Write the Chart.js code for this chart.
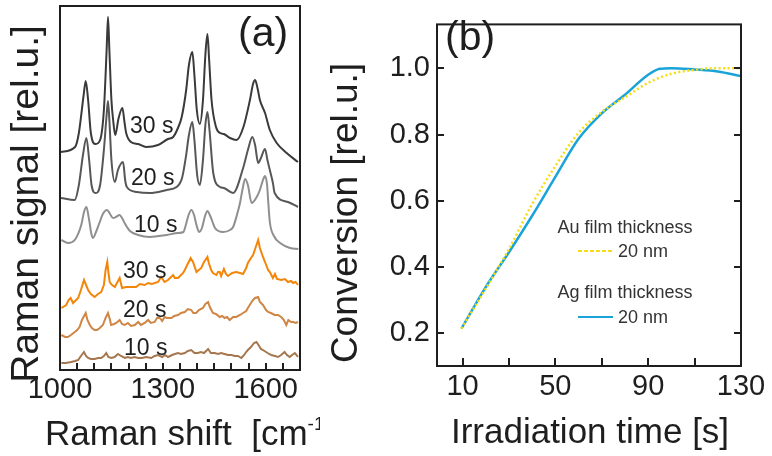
<!DOCTYPE html>
<html>
<head>
<meta charset="utf-8">
<script src="https://cdn.jsdelivr.net/npm/chart.js@4.4.0/dist/chart.umd.min.js"></script>
<style>
html, body { margin: 0; padding: 0; background: #fff; }
#wrap { position: relative; width: 772px; height: 456px; overflow: hidden; }
#chartA { position: absolute; left: 0; top: 0; }
#chartB { position: absolute; left: 320px; top: 0; }
</style>
</head>
<body>
<div id="wrap">
  <canvas id="chartA" width="320" height="456"></canvas>
  <canvas id="chartB" width="452" height="456"></canvas>
</div>
<script>
// Panel (a): Raman spectra (shift in cm-1, signal with vertical offset, rel.u.)
const dark30Shift = [1003,1044,1055,1069,1075,1082,1090,1104,1117,1128,1136,1140,1144,1150,1155,1161,1171,1182,1188,1193,1207,1228,1251,1286,1315,1330,1344,1355,1368,1376,1386,1392,1399,1408,1417,1424,1430,1435,1442,1455,1467,1478,1496,1515,1535,1554,1563,1569,1576,1583,1598,1612,1632,1661,1694];
const dark30Signal = [218,223,237,275,289,270,237,226,230,260,320,353,320,270,250,235,252,262,248,237,228,226,223,225,231,233,242,253,280,305,318,295,260,246,270,315,336,310,270,243,237,236,232,230,243,270,286,290,282,270,257,240,227,217,208];

const dark20Shift = [1003,1043,1055,1067,1077,1085,1092,1104,1117,1128,1136,1140,1144,1150,1160,1169,1184,1190,1195,1224,1262,1311,1340,1356,1368,1376,1386,1392,1400,1408,1417,1424,1430,1436,1447,1467,1478,1505,1535,1548,1561,1569,1578,1586,1598,1605,1612,1621,1626,1665,1694];
const dark20Signal = [172,170,185,215,232,210,185,177,185,220,255,269,250,210,188,200,208,190,183,178,177,180,183,192,215,235,248,230,195,185,210,245,258,240,197,183,182,177,203,220,233,225,207,212,221,210,200,187,177,168,163];

const grey10Shift = [1004,1023,1043,1062,1070,1077,1085,1091,1096,1105,1116,1125,1137,1146,1155,1163,1174,1181,1190,1204,1228,1262,1311,1344,1360,1367,1375,1383,1391,1398,1406,1414,1423,1430,1437,1445,1452,1476,1496,1505,1516,1525,1532,1540,1548,1559,1572,1583,1592,1598,1604,1607,1612,1624,1642,1671,1695];
const grey10Signal = [130,127,130,145,158,163,150,137,132,138,148,156,160,156,152,153,155,152,146,139,135,133,135,137,138,145,155,160,155,145,138,142,154,159,155,148,142,138,140,143,155,167,180,191,185,167,172,180,190,194,185,170,148,134,127,122,121];

const orange30Shift = [1004,1018,1025,1031,1038,1047,1053,1061,1070,1076,1082,1090,1101,1111,1120,1128,1133,1138,1141,1145,1152,1160,1166,1174,1181,1193,1208,1222,1233,1247,1257,1268,1286,1295,1305,1315,1321,1330,1335,1344,1353,1359,1364,1371,1381,1388,1398,1405,1412,1420,1430,1434,1441,1446,1456,1461,1466,1470,1478,1484,1490,1502,1514,1525,1534,1543,1548,1557,1563,1570,1578,1583,1592,1598,1607,1612,1621,1627,1633,1645,1656,1665,1674,1680,1687,1694];
const orange30Signal = [62,65,70,72,67,70,72,80,90,85,80,76,73,76,78,85,100,108,98,88,85,83,87,92,82,83,83,83,86,85,87,86,88,93,88,90,92,95,92,92,95,97,100,105,112,108,98,100,102,108,113,107,100,97,95,98,98,94,101,96,94,97,98,97,96,102,107,112,115,122,130,122,113,108,100,98,92,96,91,90,91,88,89,87,88,85];

const orange20Shift = [1004,1015,1023,1032,1043,1050,1057,1064,1075,1080,1087,1093,1101,1108,1116,1125,1133,1140,1146,1149,1158,1164,1174,1181,1189,1198,1207,1218,1228,1236,1247,1257,1265,1276,1283,1291,1298,1305,1312,1325,1333,1344,1353,1364,1373,1383,1389,1397,1405,1417,1424,1432,1437,1446,1455,1466,1473,1480,1487,1495,1505,1514,1525,1534,1543,1548,1557,1563,1569,1578,1583,1592,1601,1607,1615,1626,1636,1645,1653,1660,1666,1674,1680,1688,1694];
const orange20Signal = [35,33,33,35,38,40,43,50,57,50,45,42,40,40,42,45,52,57,50,45,46,47,50,46,45,47,44,45,48,45,47,50,47,48,52,52,49,53,52,52,54,55,57,58,61,60,57,57,60,62,66,68,63,57,56,53,54,52,53,50,53,53,55,57,59,62,67,70,72,73,68,65,60,58,57,55,55,53,50,45,50,48,48,47,48];

const brown10Shift = [1004,1017,1033,1044,1053,1061,1070,1076,1082,1090,1101,1111,1120,1128,1135,1141,1150,1159,1169,1178,1189,1198,1207,1217,1228,1239,1251,1266,1276,1286,1298,1306,1315,1327,1335,1344,1353,1364,1373,1383,1392,1402,1411,1420,1432,1440,1451,1461,1470,1480,1490,1500,1510,1519,1529,1537,1543,1548,1557,1566,1573,1579,1586,1592,1601,1610,1616,1627,1636,1645,1655,1662,1670,1677,1685,1690,1694];
const brown10Signal = [7,7,8,9,10,14,18,14,12,11,11,12,12,14,17,13,12,13,16,14,12,13,12,13,12,12,13,12,14,15,13,15,13,15,16,17,16,17,19,20,17,17,18,17,21,17,17,16,17,16,15,15,14,14,12,15,18,20,23,27,28,25,21,20,18,16,15,14,13,15,18,15,13,15,17,15,13];

const ramanTicks = [1000,1050,1100,1150,1200,1250,1300,1350,1400,1450,1500,1550,1600,1650,1700];
const ramanTickLabels = [1000, 1300, 1600];

// Panel (b): conversion vs irradiation time
const auTime = [9.5,20,30,40,50,60,70,80,90,100,110,120,130];
const auConversion = [0.215,0.335,0.455,0.59,0.705,0.805,0.868,0.912,0.956,0.983,0.995,1.0,1.0];
const agTime = [9.5,20,30,40,50,60,70,80,90,95,100,110,120,130];
const agConversion = [0.215,0.34,0.445,0.555,0.672,0.787,0.864,0.92,0.98,0.998,1.0,0.996,0.99,0.976];

const timeTicks = [10,30,50,70,90,110,130];
const timeTickLabels = [10, 50, 90, 130];
const conversionTicks = [0.2,0.4,0.6,0.8,1.0];

const FONT = '"Liberation Sans", Arial, Helvetica, sans-serif';
const INK = '#1e1e1e';

const toPoints = (xs, ys) => xs.map((x, i) => ({ x: x, y: ys[i] }));

// marco del gráfico y marcas hacia dentro
const framePlugin = {
  id: 'frame',
  afterDraw(chart, args, opts) {
    const ctx = chart.ctx;
    const a = chart.chartArea;
    ctx.save();
    ctx.strokeStyle = INK;
    ctx.lineWidth = 2;
    ctx.beginPath();
    const xs = chart.scales.x;
    xs.ticks.forEach(t => {
      const px = Math.round(xs.getPixelForValue(t.value));
      if (px <= a.left + 2 || px >= a.right - 2) return;
      ctx.moveTo(px, a.bottom);
      ctx.lineTo(px, a.bottom - opts.xTick);
    });
    if (opts.yTick) {
      const ys = chart.scales.y;
      ys.ticks.forEach(t => {
        const py = Math.round(ys.getPixelForValue(t.value));
        ctx.moveTo(a.left, py);
        ctx.lineTo(a.left + opts.yTick, py);
        ctx.moveTo(a.right, py);
        ctx.lineTo(a.right - opts.yTick, py);
      });
    }
    ctx.stroke();
    ctx.strokeRect(a.left, a.top, a.right - a.left, a.bottom - a.top);
    ctx.restore();
  }
};

// textos sueltos (títulos de ejes, etiquetas)
const textPlugin = {
  id: 'texts',
  afterDraw(chart, args, opts) {
    const ctx = chart.ctx;
    (opts.items || []).forEach(it => {
      ctx.save();
      ctx.fillStyle = INK;
      ctx.font = it.size + 'px ' + FONT;
      ctx.textAlign = it.align || 'left';
      ctx.textBaseline = 'alphabetic';
      ctx.translate(it.x, it.y);
      if (it.rotate) ctx.rotate(-Math.PI / 2);
      ctx.fillText(it.text, 0, 0);
      if (it.sup) {
        let w = ctx.measureText(it.text).width;
        ctx.font = Math.round(it.size * 0.55) + 'px ' + FONT;
        ctx.fillText(it.sup, w, -it.size * 0.42);
        w += ctx.measureText(it.sup).width;
        ctx.font = it.size + 'px ' + FONT;
        ctx.fillText(it.after, w, 0);
      }
      ctx.restore();
    });
  }
};

// leyenda de espesor de película
const filmLegend = {
  id: 'filmLegend',
  afterDraw(chart, args, opts) {
    const ctx = chart.ctx;
    chart.data.datasets.forEach((ds, i) => {
      const e = opts.rows[i];
      ctx.save();
      ctx.fillStyle = '#333';
      ctx.font = opts.size + 'px ' + FONT;
      ctx.textAlign = 'center';
      ctx.fillText(ds.label, opts.centerX, e.titleY);
      ctx.textAlign = 'left';
      ctx.fillText(ds.thickness, opts.textX, e.textY);
      ctx.strokeStyle = ds.borderColor;
      ctx.lineWidth = 2;
      ctx.setLineDash(ds.legendDash || []);
      ctx.beginPath();
      ctx.moveTo(opts.lineX0, e.lineY);
      ctx.lineTo(opts.lineX1, e.lineY);
      ctx.stroke();
      ctx.restore();
    });
  }
};

function spectrum(xs, ys, color, smooth) {
  return {
    data: toPoints(xs, ys),
    borderColor: color,
    borderWidth: 2,
    pointRadius: 0,
    tension: smooth ? 0.4 : 0,
    cubicInterpolationMode: smooth ? 'monotone' : 'default'
  };
}

// Gráfico (a)
new Chart(document.getElementById('chartA'), {
  type: 'line',
  data: {
    datasets: [
      spectrum(dark30Shift, dark30Signal, '#3a3a3a', true),
      spectrum(dark20Shift, dark20Signal, '#575757', true),
      spectrum(grey10Shift, grey10Signal, '#8f8f8f', true),
      spectrum(orange30Shift, orange30Signal, '#f38508', false),
      spectrum(orange20Shift, orange20Signal, '#cf8644', false),
      spectrum(brown10Shift, brown10Signal, '#a6774e', false)
    ]
  },
  options: {
    responsive: false,
    animation: false,
    layout: { padding: { top: 6, right: 20, left: 0, bottom: 0 } },
    plugins: {
      legend: { display: false },
      tooltip: { enabled: false },
      frame: { xTick: 7 },
      texts: {
        items: [
          { text: '(a)', x: 238, y: 46, size: 41 },
          { text: 'Raman signal [rel.u.]', x: 38, y: 204, size: 39, align: 'center', rotate: true },
          { text: 'Raman shift  [cm', sup: '-1', after: ']', x: 45, y: 445, size: 35 },
          { text: '30 s', x: 130, y: 133, size: 23 },
          { text: '20 s', x: 131, y: 185, size: 23 },
          { text: '10 s', x: 134, y: 232, size: 23 },
          { text: '30 s', x: 123, y: 278, size: 23 },
          { text: '20 s', x: 123, y: 317, size: 23 },
          { text: '10 s', x: 124, y: 355, size: 23 }
        ]
      }
    },
    scales: {
      x: {
        type: 'linear',
        min: 1000,
        max: 1700,
        grid: { display: false, drawTicks: false },
        border: { display: false },
        afterBuildTicks: s => { s.ticks = ramanTicks.map(v => ({ value: v })); },
        ticks: {
          autoSkip: false,
          maxRotation: 0,
          padding: 3,
          color: INK,
          font: { family: FONT, size: 29 },
          callback: v => ramanTickLabels.includes(v) ? String(v) : ''
        },
        afterFit: s => { s.height = 86; }
      },
      y: {
        min: 0,
        max: 364,
        grid: { display: false, drawTicks: false },
        border: { display: false },
        ticks: { display: false },
        afterFit: s => { s.width = 60; }
      }
    }
  },
  plugins: [framePlugin, textPlugin]
});

// Gráfico (b)
new Chart(document.getElementById('chartB'), {
  type: 'line',
  data: {
    datasets: [
      {
        label: 'Au film thickness',
        thickness: '20 nm',
        data: toPoints(auTime, auConversion),
        borderColor: '#f7dc14',
        borderWidth: 2.5,
        borderDash: [2, 2.5],
        legendDash: [4, 2],
        pointRadius: 0,
        tension: 0.4,
        cubicInterpolationMode: 'monotone'
      },
      {
        label: 'Ag film thickness',
        thickness: '20 nm',
        data: toPoints(agTime, agConversion),
        borderColor: '#1aa3d8',
        borderWidth: 2.5,
        pointRadius: 0,
        tension: 0.4,
        cubicInterpolationMode: 'monotone'
      }
    ]
  },
  options: {
    responsive: false,
    animation: false,
    layout: { padding: { top: 8, right: 31, left: 0, bottom: 0 } },
    plugins: {
      legend: { display: false },
      tooltip: { enabled: false },
      frame: { xTick: 8, yTick: 7 },
      filmLegend: {
        size: 18,
        centerX: 305,
        textX: 298,
        lineX0: 258,
        lineX1: 293,
        rows: [
          { titleY: 233, textY: 257, lineY: 251 },
          { titleY: 298, textY: 323, lineY: 317 }
        ]
      },
      texts: {
        items: [
          { text: '(b)', x: 125, y: 50, size: 41 },
          { text: 'Conversion [rel.u.]', x: 37, y: 213, size: 37, align: 'center', rotate: true },
          { text: 'Irradiation time [s]', x: 270, y: 443, size: 35, align: 'center' }
        ]
      }
    },
    scales: {
      x: {
        type: 'linear',
        min: -1,
        max: 130,
        grid: { display: false, drawTicks: false },
        border: { display: false },
        afterBuildTicks: s => { s.ticks = timeTicks.map(v => ({ value: v })); },
        ticks: {
          autoSkip: false,
          maxRotation: 0,
          padding: 4,
          color: INK,
          font: { family: FONT, size: 29 },
          callback: v => timeTickLabels.includes(v) ? String(v) : ''
        },
        afterFit: s => { s.height = 90; }
      },
      y: {
        min: 0.102,
        max: 1.132,
        grid: { display: false, drawTicks: false },
        border: { display: false },
        afterBuildTicks: s => { s.ticks = conversionTicks.map(v => ({ value: v })); },
        ticks: {
          padding: 7,
          color: INK,
          font: { family: FONT, size: 29 },
          callback: v => v.toFixed(1)
        },
        afterFit: s => { s.width = 117; }
      }
    }
  },
  plugins: [framePlugin, textPlugin, filmLegend]
});
</script>
</body>
</html>
